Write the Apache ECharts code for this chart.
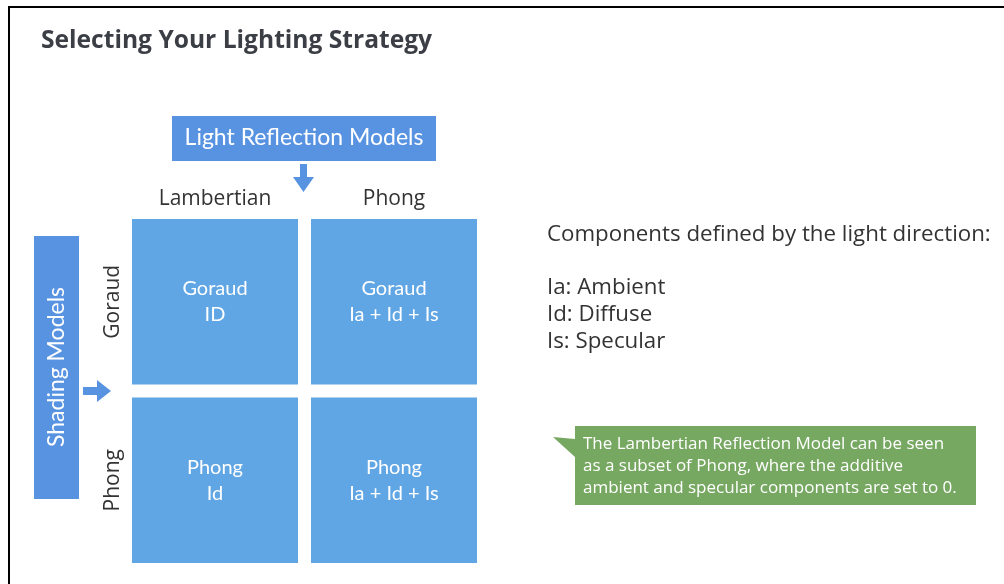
<!DOCTYPE html>
<html>
<head>
<meta charset="utf-8">
<script src="https://cdn.jsdelivr.net/npm/echarts@6/dist/echarts.min.js"></script>
<style>html,body{margin:0;padding:0;background:#fff;}#main{width:1004px;height:584px;}</style>
</head>
<body>
<div id="main"></div>
<script>
// ---- data ----
const titleText = 'Selecting Your Lighting Strategy';
const reflectionModels = ['Lambertian', 'Phong'];        // columns
const shadingModels = ['Goraud', 'Phong'];                // rows
const columnHeader = 'Light Reflection Models';
const rowHeader = 'Shading Models';
// [column index, row index, shading, components]
const cells = [
  [0, 0, 'Goraud', 'ID'],
  [1, 0, 'Goraud', 'Ia + Id + Is'],
  [0, 1, 'Phong', 'Id'],
  [1, 1, 'Phong', 'Ia + Id + Is']
];
const componentsHeading = 'Components defined by the light direction:';
const components = ['Ia: Ambient', 'Id: Diffuse', 'Is: Specular'];
const calloutLines = [
  'The Lambertian Reflection Model can be seen',
  'as a subset of Phong, where the additive',
  'ambient and specular components are set to 0.'
];

const BOX_BLUE = '#5893e2';
const CELL_BLUE = '#60a5e4';
const GREEN = '#77a862';
const FONT = 'Lato, "Open Sans", sans-serif';
const FONT2 = '"Open Sans", Lato, sans-serif';

const chart = echarts.init(document.getElementById('main'), null, {renderer: 'canvas'});

chart.setOption({
  backgroundColor: '#ffffff',
  animation: false,
  grid: {left: 125.5, top: 212.5, width: 358, height: 357, containLabel: false},
  xAxis: {
    type: 'category', data: reflectionModels, position: 'top',
    axisLine: {show: false}, axisTick: {show: false}, splitLine: {show: false},
    axisLabel: {color: '#333333', fontFamily: FONT2, fontSize: 21, margin: 3}
  },
  yAxis: {
    type: 'category', data: shadingModels, inverse: true,
    axisLine: {show: false}, axisTick: {show: false}, splitLine: {show: false},
    axisLabel: {color: '#333333', fontFamily: FONT2, fontSize: 21, rotate: 90, margin: 2}
  },
  series: [{
    type: 'custom',
    data: cells,
    encode: {x: 0, y: 1},
    renderItem: function (params, api) {
      const c = api.coord([api.value(0), api.value(1)]);
      const s = api.size([1, 1]);
      const w = s[0] - 13, h = s[1] - 13;
      const d = cells[params.dataIndex];
      return {
        type: 'rect',
        shape: {x: c[0] - w / 2, y: c[1] - h / 2, width: w, height: h},
        style: {fill: CELL_BLUE},
        textContent: {
          style: {
            text: d[2] + '\n' + d[3], fill: '#ffffff', fontFamily: FONT,
            fontSize: 20, lineHeight: 26, align: 'center', verticalAlign: 'middle'
          }
        },
        textConfig: {position: 'inside'}
      };
    }
  }],
  graphic: [
    // frame
    {type: 'line', shape: {x1: 8, y1: 7, x2: 1004, y2: 7}, style: {stroke: '#000', lineWidth: 2}},
    {type: 'line', shape: {x1: 9, y1: 6, x2: 9, y2: 584}, style: {stroke: '#000', lineWidth: 2}},
    // title
    {type: 'text', x: 41, y: 41, style: {text: titleText, fill: '#3b3f45', font: 'bold 24.6px ' + FONT2, verticalAlign: 'middle'}},
    // column header box
    {type: 'rect', shape: {x: 172, y: 116, width: 264, height: 45}, style: {fill: BOX_BLUE}},
    {type: 'text', x: 304, y: 138, style: {text: columnHeader, fill: '#fff', font: '23px ' + FONT, align: 'center', verticalAlign: 'middle'}},
    // down arrow
    {type: 'polygon', shape: {points: [[300, 164], [307, 164], [307, 177], [314, 177], [303.5, 192], [293, 177], [300, 177]]}, style: {fill: BOX_BLUE}},
    // row header box
    {type: 'rect', shape: {x: 34, y: 236, width: 45, height: 263}, style: {fill: BOX_BLUE}},
    {type: 'text', x: 57, y: 367, rotation: Math.PI / 2, style: {text: rowHeader, fill: '#fff', font: '23px ' + FONT, align: 'center', verticalAlign: 'middle'}},
    // right arrow
    {type: 'polygon', shape: {points: [[83, 387], [97, 387], [97, 380], [111, 391], [97, 402], [97, 395], [83, 395]]}, style: {fill: BOX_BLUE}},
    // components text
    {type: 'text', x: 547, y: 235, style: {text: componentsHeading, fill: '#333', font: '22.3px ' + FONT2, verticalAlign: 'middle'}},
    {type: 'text', x: 547, y: 315, style: {text: components.join('\n'), fill: '#333', font: '22.3px ' + FONT2, lineHeight: 27, verticalAlign: 'middle'}},
    // callout
    {type: 'polygon', shape: {points: [[575, 426], [976, 426], [976, 505], [575, 505], [575, 457], [553, 437], [575, 439]]}, style: {fill: GREEN}},
    {type: 'text', x: 583, y: 466, style: {text: calloutLines.join('\n'), fill: '#fff', font: '17px ' + FONT2, lineHeight: 22, verticalAlign: 'middle'}}
  ]
});
</script>
</body>
</html>
